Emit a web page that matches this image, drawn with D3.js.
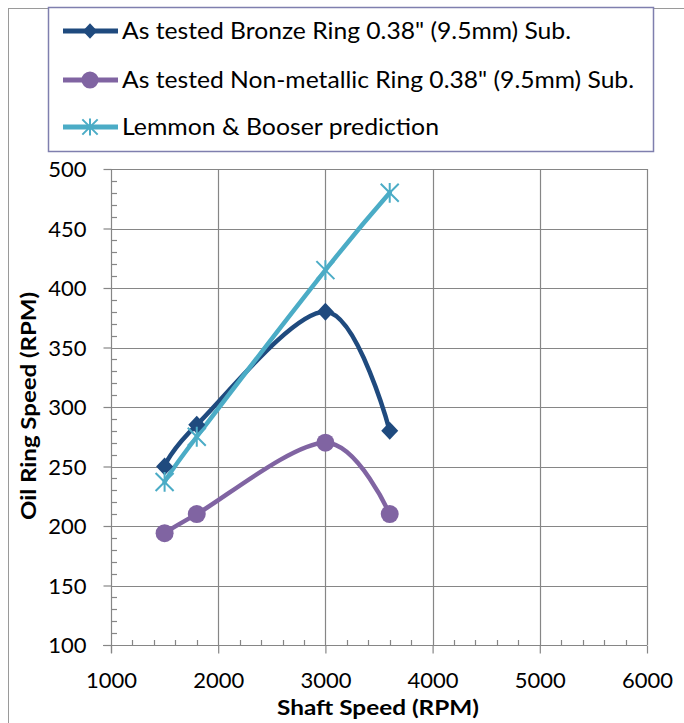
<!DOCTYPE html>
<html><head><meta charset="utf-8">
<script src="https://cdn.jsdelivr.net/npm/d3@7"></script>
<style>body{margin:0;background:#fff}svg{display:block}text{font-family:Lato,"Liberation Sans",sans-serif;fill:#000}</style>
</head><body><svg id="c" width="684" height="723"></svg>
<script>
const shaft = [1500, 1800, 3000, 3600];
const bronze = [250, 285, 380, 280];
const nonMetallic = [194, 210, 270, 210];
const lemmon = [237, 275, 415, 480];
const seriesNames = ['As tested Bronze Ring 0.38" (9.5mm) Sub.', 'As tested Non-metallic Ring 0.38" (9.5mm) Sub.', 'Lemmon & Booser prediction'];
const xTicks = [1000, 2000, 3000, 4000, 5000, 6000];
const yTicks = [100, 150, 200, 250, 300, 350, 400, 450, 500];
const xTitle = "Shaft Speed (RPM)";
const yTitle = "Oil Ring Speed (RPM)";

const svg = d3.select('#c');
const L = 111, R = 647, T = 169, B = 645;
const x = d3.scaleLinear().domain([1000, 6000]).range([L, R]);
const y = d3.scaleLinear().domain([100, 500]).range([B, T]);
const grey = '#868686';

// chart border
svg.append('rect').attr('x', 8.5).attr('y', 8.5).attr('width', 700).attr('height', 740)
  .attr('fill', 'none').attr('stroke', '#9a9a9a').attr('stroke-width', 1);

// gridlines
const g = svg.append('g');
g.selectAll('.hg').data(yTicks.filter(d => d > 100)).join('line')
  .attr('x1', L).attr('x2', R).attr('y1', d => Math.round(y(d)) + 0.5).attr('y2', d => Math.round(y(d)) + 0.5)
  .attr('stroke', grey).attr('stroke-width', 1.2);
g.selectAll('.vg').data(xTicks.filter(d => d > 1000)).join('line')
  .attr('y1', T).attr('y2', B).attr('x1', d => Math.round(x(d)) + 0.5).attr('x2', d => Math.round(x(d)) + 0.5)
  .attr('stroke', grey).attr('stroke-width', 1.2);

// axes
const xAxis = d3.axisBottom(x).tickValues(xTicks).tickSize(8).tickFormat(d3.format('d'));
const yAxis = d3.axisLeft(y).tickValues(yTicks).tickSize(8);
const xa = svg.append('g').attr('transform', `translate(0,${B + 0.5})`).call(xAxis);
const ya = svg.append('g').attr('transform', `translate(${L + 0.5},0)`).call(yAxis);
[xa, ya].forEach(a => {
  a.select('.domain').attr('stroke', grey).attr('stroke-width', 1.2);
  a.selectAll('.tick line').attr('stroke', grey).attr('stroke-width', 1.2);
  a.selectAll('.tick text').attr('font-size', 22).attr('font-family', 'Lato,"Liberation Sans",sans-serif').attr('fill', '#000');
});
xa.select('.domain').attr('d', `M${L - 8},0H${R}`);
ya.select('.domain').attr('d', `M0,${T}V${B + 8}`);
xa.selectAll('.tick text').attr('y', 27);
ya.selectAll('.tick text').attr('x', -25).attr('dy', '0.35em');

// minor ticks
const xMinor = d3.range(1000, 6001, 200).filter(d => d % 1000 !== 0);
const yMinor = d3.range(100, 501, 10).filter(d => d % 50 !== 0);
svg.append('g').selectAll('line').data(xMinor).join('line')
  .attr('x1', d => Math.round(x(d)) + 0.5).attr('x2', d => Math.round(x(d)) + 0.5).attr('y1', B).attr('y2', B - 5)
  .attr('stroke', grey).attr('stroke-width', 1.2);
svg.append('g').selectAll('line').data(yMinor).join('line')
  .attr('y1', d => Math.round(y(d)) + 0.5).attr('y2', d => Math.round(y(d)) + 0.5).attr('x1', L).attr('x2', L + 6)
  .attr('stroke', grey).attr('stroke-width', 1.2);

// titles
svg.append('text').attr('x', 378).attr('y', 715).attr('text-anchor', 'middle')
  .attr('font-size', 21).attr('font-weight', 'bold')
  .attr('textLength', 202).attr('lengthAdjust', 'spacingAndGlyphs').text(xTitle);
svg.append('text').attr('transform', `translate(36,406) rotate(-90)`).attr('text-anchor', 'middle')
  .attr('font-size', 21).attr('font-weight', 'bold')
  .attr('textLength', 228).attr('lengthAdjust', 'spacingAndGlyphs').text(yTitle);

// series
const colors = ['#1F4A7E', '#8064A2', '#4BACC6'];
const seriesData = [bronze, nonMetallic, lemmon];
const line = d3.line().x(d => x(d[0])).y(d => y(d[1])).curve(d3.curveCatmullRom.alpha(0));
const plot = svg.append('g');
seriesData.forEach((vals, i) => {
  const pts = shaft.map((s, j) => [s, vals[j]]);
  plot.append('path').attr('d', line(pts)).attr('fill', 'none').attr('stroke', colors[i])
    .attr('stroke-width', 4.5).attr('stroke-linejoin', 'round').attr('stroke-linecap', 'round');
});
function marker(sel, i, cx, cy, s) {
  if (i === 0) {
    sel.append('path').attr('d', `M${cx},${cy - 9 * s}L${cx + 8.5 * s},${cy}L${cx},${cy + 9 * s}L${cx - 8.5 * s},${cy}Z`).attr('fill', colors[0]);
  } else if (i === 1) {
    sel.append('circle').attr('cx', cx).attr('cy', cy).attr('r', 9 * s).attr('fill', colors[1]);
  } else {
    const r = 9 * s;
    sel.append('path').attr('d', `M${cx - r},${cy - r}L${cx + r},${cy + r}M${cx - r},${cy + r}L${cx + r},${cy - r}M${cx},${cy - r * 1.1}V${cy + r * 1.1}`)
      .attr('stroke', colors[2]).attr('stroke-width', 2).attr('fill', 'none');
  }
}
seriesData.forEach((vals, i) => {
  shaft.forEach((s, j) => marker(plot, i, x(s), y(vals[j]), 1));
});

// legend
const lg = svg.append('g');
lg.append('rect').attr('x', 48.5).attr('y', 7.5).attr('width', 605).attr('height', 144)
  .attr('fill', '#fff').attr('stroke', '#7f7fae').attr('stroke-width', 1.5);
const rows = [31, 80, 127];
const legendWidths = [449, 512, 317];
seriesNames.forEach((n, i) => {
  const cy = rows[i];
  lg.append('line').attr('x1', 63).attr('x2', 118).attr('y1', cy).attr('y2', cy)
    .attr('stroke', colors[i]).attr('stroke-width', 5);
  marker(lg, i, 90, cy, i === 1 ? 0.95 : 0.85);
  lg.append('text').attr('x', 122).attr('y', cy).attr('dy', '0.36em').attr('font-size', 23)
    .attr('textLength', legendWidths[i]).attr('lengthAdjust', 'spacingAndGlyphs').text(n);
});
</script></body></html>
